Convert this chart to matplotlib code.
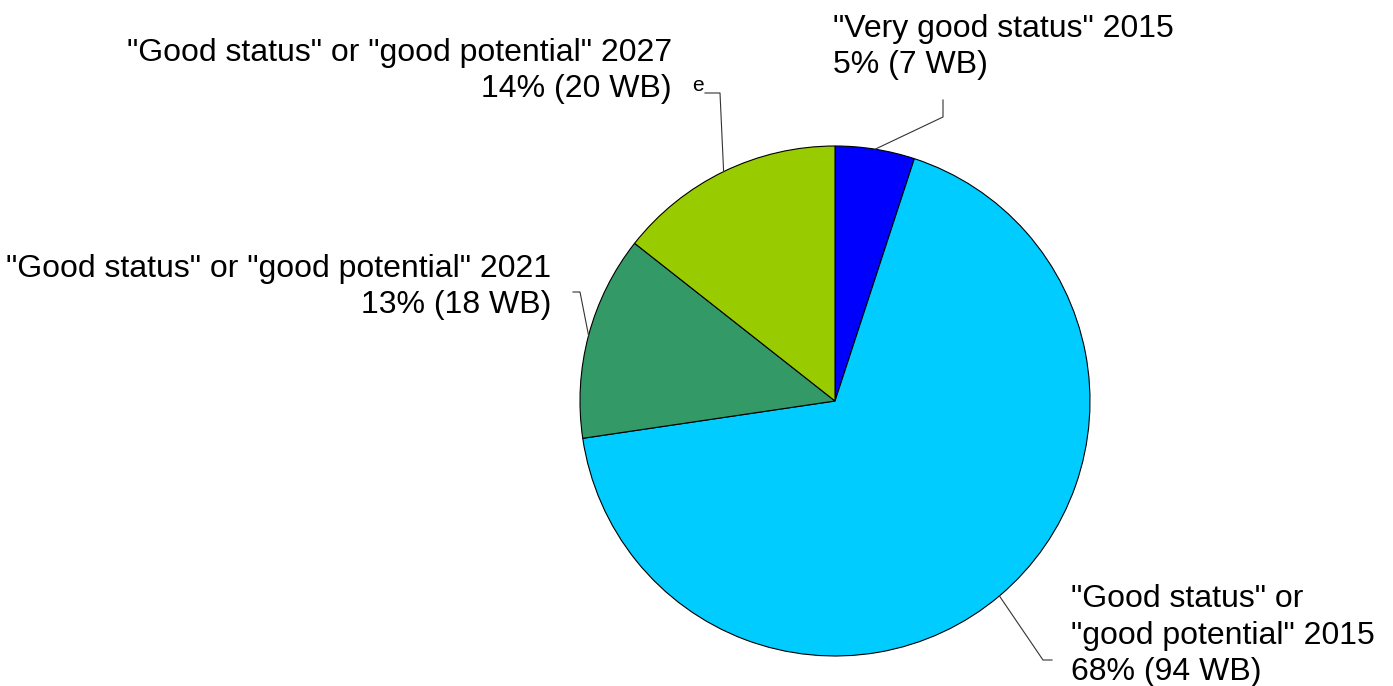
import numpy as np
import matplotlib
matplotlib.use("Agg")
import matplotlib.pyplot as plt

# ---- data ----
categories = ['"Very good status" 2015',
              '"Good status" or "good potential" 2015',
              '"Good status" or "good potential" 2021',
              '"Good status" or "good potential" 2027']
wb_counts = [7, 94, 18, 20]
colors = ['#0000FF', '#00CCFF', '#339966', '#99CC00']

W, H = 1393, 686
plt.rcParams['font.family'] = ['Liberation Sans', 'DejaVu Sans']
fig = plt.figure(figsize=(W / 100, H / 100), dpi=100)
ax = fig.add_axes([0, 0, 1, 1])

def Y(py):
    return H - py

cx, cy, R = 835, Y(401), 255
wedges, _ = ax.pie(wb_counts, colors=colors, startangle=90, counterclock=False,
                   center=(cx, cy), radius=R,
                   wedgeprops=dict(edgecolor='black', linewidth=0.8))
ax.set_xlim(0, W)
ax.set_ylim(0, H)
ax.set_aspect('auto')
ax.axis('off')

total = sum(wb_counts)
pcts = [100 * v / total for v in wb_counts]
value_lines = [f'{p:.0f}% ({v} WB)' for p, v in zip(pcts, wb_counts)]

# label layout: (lines, x, baselines, ha), elbow points
FS = 23
layouts = [
    (['"Very good status" 2015', value_lines[0]], 833, [37, 73], 'left',
     [(943, 117), (943, 100)]),
    (['"Good status" or', '"good potential" 2015', value_lines[1]], 1071, [607, 644, 680], 'left',
     [(1043, 660), (1052, 660)]),
    (['"Good status" or "good potential" 2021', value_lines[2]], 551, [277, 313], 'right',
     [(580, 292), (573, 292)]),
    (['"Good status" or "good potential" 2027', value_lines[3]], 672, [61, 97], 'right',
     [(720, 93), (705, 93)]),
]

for w, (lines, x, bases, ha, elbow) in zip(wedges, layouts):
    for txt, b in zip(lines, bases):
        ax.text(x, Y(b), txt, ha=ha, va='baseline', fontsize=FS, color='black')
    mid = np.deg2rad((w.theta1 + w.theta2) / 2)
    px = cx + R * np.cos(mid)
    pyy = cy + R * np.sin(mid)
    lx = [px] + [e[0] for e in elbow]
    ly = [pyy] + [Y(e[1]) for e in elbow]
    ax.plot(lx, ly, color='#333333', linewidth=0.8)

# small clipped label fragment visible in the original
ax.text(698, Y(91), 'e', ha='center', va='baseline', fontsize=15, color='black')

fig.savefig('out.png', dpi=100, facecolor='white')
